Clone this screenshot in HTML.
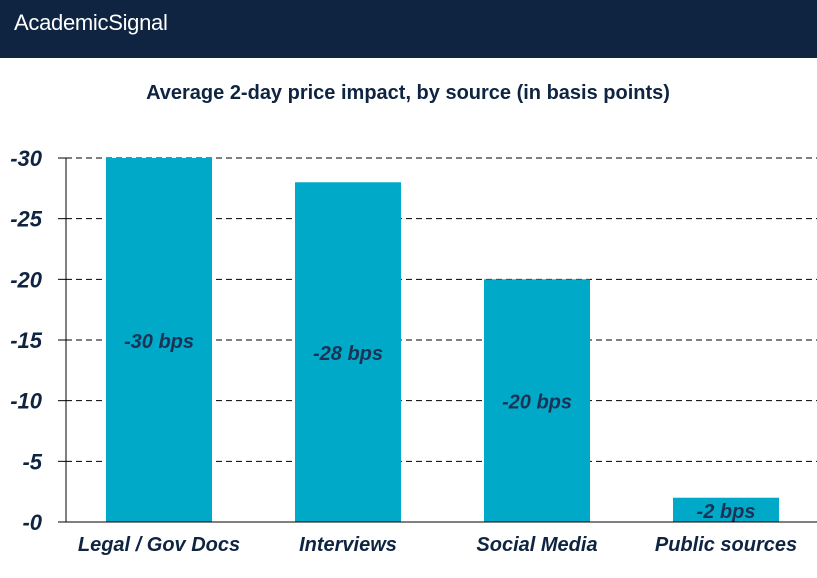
<!DOCTYPE html>
<html><head><meta charset="utf-8"><style>
body{margin:0;width:817px;height:578px;background:#fff;overflow:hidden;font-family:"Liberation Sans",sans-serif}
#hdr{position:absolute;left:0;top:0;width:817px;height:58px;background:#0e2441}
#logo{position:absolute;left:14px;top:10px;color:#fff;font-size:22px;letter-spacing:-0.3px}
</style></head><body>
<div id="hdr"><div id="logo">AcademicSignal</div></div>
<svg id="chart" width="817" height="578" style="position:absolute;left:0;top:0">
<text x="408" y="99" text-anchor="middle" font-size="20" font-weight="bold" fill="#0e2441">Average 2-day price impact, by source (in basis points)</text>
<g id="g"></g>
</svg>
<script>
const categories=["Legal / Gov Docs","Interviews","Social Media","Public sources"];
const values=[-30,-28,-20,-2];
const valueLabels=["-30 bps","-28 bps","-20 bps","-2 bps"];
const ticks=[0,-5,-10,-15,-20,-25,-30];
const tickLabels=["-0","-5","-10","-15","-20","-25","-30"];
const NS="http://www.w3.org/2000/svg";
const g=document.getElementById('g');
const y0=522,y30=158;
const y=v=>y0+(v/-30)*(y30-y0);
const x=i=>106+i*189;
const bw=106;
function mk(t,a){const e=document.createElementNS(NS,t);for(const k in a)e.setAttribute(k,a[k]);g.appendChild(e);return e;}
ticks.forEach((t,k)=>{
 const yy=y(t);
 if(t!==0){const l=mk('line',{x1:66,x2:817,y1:yy,y2:yy,stroke:'#000','stroke-width':1,'stroke-dasharray':'6,4'});
 
 }
 const tk=mk('line',{x1:58,x2:66,y1:yy,y2:yy,stroke:'#000'});
 
 
 const tx=mk('text',{x:42,y:yy+8,'text-anchor':'end','font-size':22,'font-weight':'bold','font-style':'italic',fill:'#0e2441'});
 tx.textContent=tickLabels[k];
 
 
});
values.forEach((v,i)=>{
 const r=mk('rect',{x:x(i),y:y(v),width:bw,height:y0-y(v),fill:'#00a9c8'});
 
 
 const mid=(y(v)+y0)/2+8;
 const lb=mk('text',{x:x(i)+bw/2,y:mid,'text-anchor':'middle','font-size':20,'font-weight':'bold','font-style':'italic',fill:'#1a3355'});
 lb.textContent=valueLabels[i];
 
 
 const cl=mk('text',{x:x(i)+bw/2,y:551,'text-anchor':'middle','font-size':20,'font-weight':'bold','font-style':'italic',fill:'#0e2441'});
 cl.textContent=categories[i];
 
 
});
const ya=mk('line',{x1:66,x2:66,y1:y30,y2:y0,stroke:'#000'});


const xa=mk('line',{x1:66,x2:817,y1:y0,y2:y0,stroke:'#000'});


</script>
</body></html>
